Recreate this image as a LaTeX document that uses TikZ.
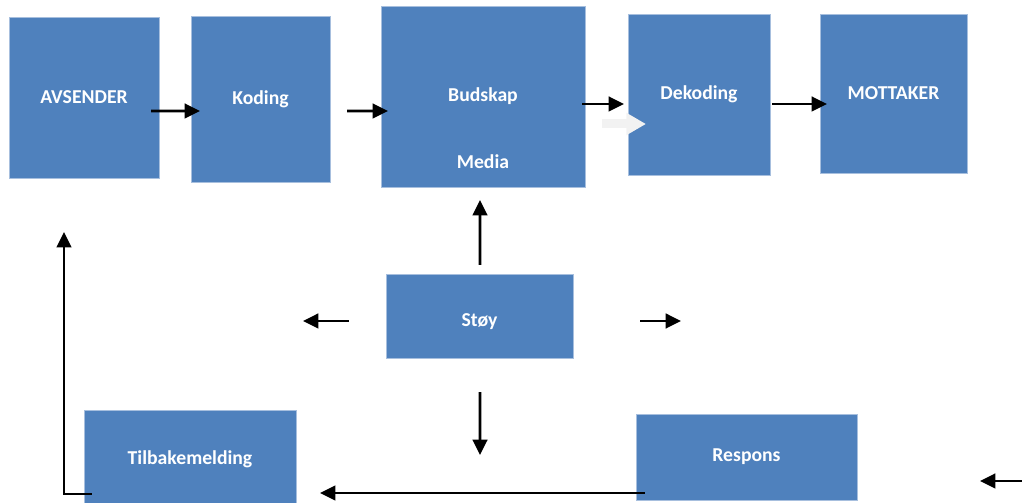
\documentclass[tikz,border=0pt]{standalone}
\usepackage{fontspec}
\setmainfont{Carlito}
\usetikzlibrary{arrows.meta}
\definecolor{boxblue}{HTML}{4F81BD}
\definecolor{boxedge}{HTML}{A7BFDE}
\definecolor{ghost}{HTML}{F2F2F2}
\begin{document}
\begin{tikzpicture}[x=0.025cm, y=-0.025cm,
  every node/.style={font=\fontsize{14}{16}\selectfont\bfseries, text=white},
  box/.style={fill=boxblue, draw=boxedge, line width=0.6pt, inner sep=0pt, outer sep=0pt},
  arr/.style={line width=1.8pt, -{Triangle[length=11pt, width=10.5pt]}},
  ghostarr/.style={ghost, line width=6.4pt, -{Triangle[length=14pt, width=15pt]}}]
\useasboundingbox (0,0) rectangle (1022,503);

\node[box, minimum width=3.75cm, minimum height=4.025cm] (avsender) at (84,97.5) {AVSENDER};
\node[box, minimum width=3.475cm, minimum height=4.15cm] (koding) at (260.5,99) {Koding};
\node[box, minimum width=5.1cm, minimum height=4.525cm] (budskap) at (483,96.5) {Budskap};
\node (media) at (483,162) {Media};
\node[box, minimum width=3.55cm, minimum height=4.025cm] (dekoding) at (699,94.5) {Dekoding};
\node[box, minimum width=3.675cm, minimum height=3.975cm] (mottaker) at (893.5,93.5) {MOTTAKER};

\node[box, minimum width=4.675cm, minimum height=2.1cm, text height=17pt] (stoy) at (479.5,316) {Støy};

\node[box, minimum width=5.3cm, minimum height=2.45cm] (tilbake) at (190,459) {Tilbakemelding};
\node[box, minimum width=5.525cm, minimum height=2.15cm] (respons) at (746.5,457) {Respons};

\coordinate (noiseleft) at (303,321);
\coordinate (noiseright) at (681,321);
\coordinate (noisedown) at (480,455);
\coordinate (edgein) at (1022,481);
\coordinate (edgetip) at (980,481);

% main chain
\draw[arr] ([shift={(-8,13.5)}]avsender.east) -- ([shift={(9,12)}]koding.west);
\draw[arr] ([shift={(17,12)}]koding.east) -- ([shift={(7,14.5)}]budskap.west);
\draw[ghostarr] ([shift={(17,27.5)}]budskap.east) -- ([shift={(18,29.5)}]dekoding.west);
\draw[arr] ([shift={(-3,7.5)}]budskap.east) -- ([shift={(-4,9.5)}]dekoding.west);
\draw[arr] ([shift={(2,9.5)}]dekoding.east) -- ([shift={(7,10.5)}]mottaker.west);

% noise
\draw[arr] ([shift={(0.5,-9)}]stoy.north) -- ([shift={(-3,13)}]budskap.south);
\draw[arr] ([shift={(-37,5)}]stoy.west) -- (noiseleft);
\draw[arr] ([shift={(67,5)}]stoy.east) -- (noiseright);
\draw[arr] ([shift={(0.5,34)}]stoy.south) -- (noisedown);

% feedback
\draw[arr] ([shift={(9,36)}]respons.west) -- ([shift={(24,34)}]tilbake.east);
\draw[arr] ([shift={(8,35)}]tilbake.west) -| ([shift={(-20,54)}]avsender.south);
\draw[arr] (edgein) -- (edgetip);
\end{tikzpicture}
\end{document}
